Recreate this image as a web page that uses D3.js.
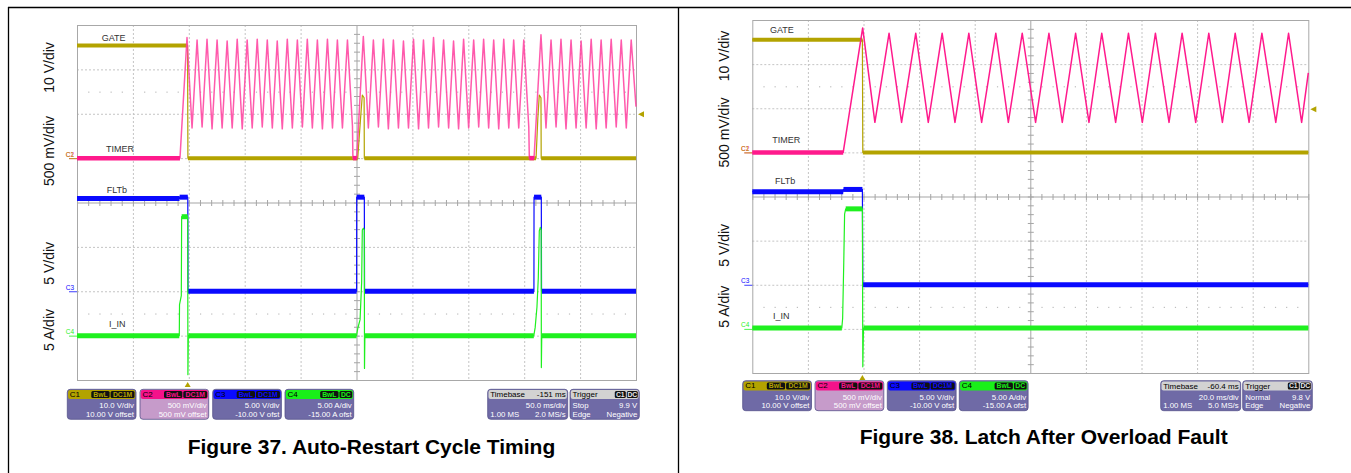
<!DOCTYPE html>
<html><head><meta charset="utf-8">
<script src="https://cdnjs.cloudflare.com/ajax/libs/d3/7.8.5/d3.min.js"></script>
<style>body{margin:0;background:#fff;} svg{display:block;}</style>
</head><body><svg id="c" width="1351" height="473"></svg>
<script>
// ---------------- DATA ----------------
const channelNames = ["C1","C2","C3","C4"];
const traceNames = ["GATE","TIMER","FLTb","I_IN"];
const divLabels = ["10 V/div","500 mV/div","5 V/div","5 A/div"];
const voltsPerDiv = [10, 0.5, 5, 5];
const offsets = [10, 0.5, -10, -15];
const scaleText = ["10.0 V/div","500 mV/div","5.00 V/div","5.00 A/div"];
const offsetText = ["10.00 V offset","500 mV offset","-10.00 V ofst","-15.00 A ofst"];
const bandwidthText = ["BwL","BwL","BwL","BwL"];
const couplingText = ["DC1M","DC1M","DC1M","DC"];
const figTitles = ["Figure 37. Auto-Restart Cycle Timing","Figure 38. Latch After Overload Fault"];
const msPerDiv = [50, 20];
const timebaseDelay = [-151, -60.4];
const timebaseText = ["-151 ms","-60.4 ms"];
const timebaseDivText = ["50.0 ms/div","20.0 ms/div"];
const sampleText = ["1.00 MS","1.00 MS"];
const rateText = ["2.0 MS/s","5.0 MS/s"];
const trigModeText = ["Stop","Normal"];
const trigLevel = [9.9, 9.8];
const trigLevelText = ["9.9 V","9.8 V"];
const trigTypeText = ["Edge","Edge"];
const trigSlopeText = ["Negative","Negative"];

// Figure 37 traces: [time ms from left edge, value in channel units]
const leftGate = [[0,25.4],[98.9,25.4],[99.2,0],[251.1,0],[253.5,8.5],[255.2,14.2],[256.8,13.6],[257.0,0],
  [410.6,0],[412.2,9.0],[413.5,14.2],[415.0,13.6],[415.2,0],[500,0]];
const leftTimer = [[0,0],[92.1,0],[98.4,1.36],
  [102.9,0.34],[107.4,1.33],[111.9,0.35],[116.3,1.34],[120.8,0.33],[125.3,1.33],[129.8,0.34],[134.3,1.32],
  [138.8,0.34],[143.3,1.34],[147.8,0.33],[152.2,1.33],[156.7,0.34],[161.2,1.34],[165.7,0.35],[170.2,1.33],
  [174.7,0.34],[179.1,1.32],[183.6,0.33],[188.1,1.34],[192.6,0.34],[197.1,1.33],[201.6,0.35],[206.0,1.34],
  [210.5,0.34],[215.0,1.33],[219.5,0.33],[224.0,1.34],[228.5,0.34],[232.9,1.33],[237.4,0.34],[241.9,1.33],
  [246.4,0.36],[246.8,0],[250.2,0],[256.1,1.37],
  [260.6,0.34],[265.1,1.33],[269.6,0.35],[274.0,1.34],[278.5,0.33],[283.0,1.33],[287.5,0.34],[292.0,1.32],
  [296.5,0.34],[301.0,1.34],[305.5,0.33],[309.9,1.33],[314.4,0.34],[318.9,1.36],[323.4,0.35],[327.9,1.33],
  [332.4,0.34],[336.8,1.32],[341.3,0.33],[345.8,1.34],[350.3,0.34],[354.8,1.33],[359.3,0.35],[363.7,1.34],
  [368.2,0.34],[372.7,1.33],[377.2,0.33],[381.7,1.34],[386.2,0.34],[390.6,1.33],[395.1,0.34],[399.6,1.33],
  [404.1,0.35],[404.6,0],[408.8,0],[415.0,1.39],
  [419.5,0.34],[424.0,1.33],[428.5,0.35],[432.9,1.34],[437.4,0.33],[441.9,1.33],[446.4,0.34],[450.9,1.32],
  [455.4,0.34],[459.9,1.34],[464.4,0.33],[468.8,1.33],[473.3,0.34],[477.8,1.34],[482.3,0.35],[486.8,1.33],
  [491.3,0.34],[495.7,1.33],[500,0.58]];
const leftFlt = [[0,10.45],[91.7,10.45],[91.8,10.6],[99.1,10.6],[99.3,0],[250.1,0],[250.2,10.6],[257.0,10.6],
  [257.2,0],[408.7,0],[408.8,10.6],[415.3,10.6],[415.5,0],[500,0]];
const leftIin = [[0,0],[91.5,0],[91.7,3.5],[93.3,4.5],[93.6,13.4],[99.0,13.4],[99.2,-4.4],[99.6,0],
  [250.0,0],[251.1,0.8],[253.2,1.8],[254.6,6.0],[255.2,11.9],[256.1,12.1],[257.0,11.9],[257.15,-3.7],[257.5,0],
  [408.6,0],[409.8,0.9],[411.4,3.2],[412.6,6.5],[413.5,11.8],[414.4,12.2],[415.2,11.9],[415.35,-3.6],[415.7,0],[500,0]];

// Figure 38 traces
const rightGate = [[0,25.5],[39.6,25.5],[39.75,0],[200,0]];
const rightTimer = [[0,0],[32.7,0],[39.7,1.41],
  [44.1,0.34],[49.2,1.35],[53.7,0.34],[58.8,1.35],[63.3,0.34],[68.3,1.35],[72.9,0.34],[77.9,1.35],
  [82.5,0.34],[87.6,1.35],[92.1,0.34],[97.1,1.35],[101.9,0.34],[106.7,1.35],[111.5,0.34],[116.3,1.35],
  [121.1,0.34],[125.7,1.35],[130.7,0.34],[135.3,1.35],[140.3,0.34],[145.0,1.35],[149.9,0.34],[154.6,1.35],
  [159.5,0.34],[164.2,1.35],[169.1,0.34],[173.7,1.35],[178.7,0.34],[183.3,1.35],[188.3,0.34],[192.9,1.35],
  [197.6,0.34],[200,0.9]];
const rightFlt = [[0,10.55],[32.7,10.55],[32.8,10.8],[39.6,10.8],[39.75,0],[200,0]];
const rightIin = [[0,0.1],[32.2,0.1],[32.5,1.2],[32.9,7.5],[33.2,13.0],[33.6,13.6],[39.6,13.6],[39.75,-4.3],[40.0,0.1],[200,0.1]];

const panelTraces = [[leftGate,leftTimer,leftFlt,leftIin],[rightGate,rightTimer,rightFlt,rightIin]];

// ---------------- LAYOUT / STYLE ----------------
const FONT = '"Liberation Sans", Arial, sans-serif';
const chColor = ["#b3a300","#ff1a8c","#0a0aff","#1ff01f"];
const headFill = ["#b3a300","#f5128a","#0a0aff","#19f019"];
const bodyFill = ["#6f6aa6","#c69bca","#6f6aa6","#6f6aa6"];
const layouts = [
  {x0:77, x1:636, y0:25, y1:380, boxY:389.3, boxX:[67.3,140,212.7,285], boxW:68.7, tbX:487.7, tbW:80, trX:570, trW:69.3,
   labelX:54, labelY:[67.5,151,263.3,330], tlX:[101.7,106,106.7,109], tlY:[40.7,151.7,193,327.3], capX:371.5, capY:454},
  {x0:752.3, x1:1308.3, y0:20, y1:373, boxY:380.7, boxX:[742.7,815,887.3,959.3], boxW:68.8, tbX:1160.7, tbW:80, trX:1242.7, trW:69.6,
   labelX:728.5, labelY:[56,132.5,245.3,306.7], tlX:[770,772.3,775,773], tlY:[33.3,142.7,184.3,319], capX:1043.7, capY:444}
];

const svg = d3.select('#c');
svg.append('rect').attr('width',1351).attr('height',473).attr('fill','#fff');
// page frame lines
svg.append('line').attr('x1',8).attr('x2',1351).attr('y1',7.5).attr('y2',7.5).attr('stroke','#000').attr('stroke-width',1.3);
svg.append('line').attr('x1',8.5).attr('x2',8.5).attr('y1',7).attr('y2',473).attr('stroke','#000').attr('stroke-width',1.3);
svg.append('line').attr('x1',678.5).attr('x2',678.5).attr('y1',7).attr('y2',473).attr('stroke','#000').attr('stroke-width',1.3);

function drawPanel(p) {
  const L = layouts[p];
  const g = svg.append('g');
  const x = d3.scaleLinear().domain([0, 10*msPerDiv[p]]).range([L.x0, L.x1]);
  const xd = d3.scaleLinear().domain([0,10]).range([L.x0, L.x1]);
  const yd = d3.scaleLinear().domain([-4,4]).range([L.y1, L.y0]);
  const ych = voltsPerDiv.map((v,i)=>d3.scaleLinear().domain([-4*v-offsets[i], 4*v-offsets[i]]).range([L.y1, L.y0]));

  // grid
  const grid = g.append('g');
  d3.range(1,10).filter(i=>i!==5).forEach(i=>grid.append('line')
    .attr('x1',xd(i)+0.5).attr('x2',xd(i)+0.5).attr('y1',L.y0).attr('y2',L.y1)
    .attr('stroke','#c4c4c4').attr('stroke-dasharray','2,2'));
  d3.range(-3,4).filter(i=>i!==0).forEach(i=>grid.append('line')
    .attr('y1',yd(i)+0.5).attr('y2',yd(i)+0.5).attr('x1',L.x0).attr('x2',L.x1)
    .attr('stroke','#c4c4c4').attr('stroke-dasharray','2,2'));
  [-2.5,2.5].forEach(r=>{
    d3.range(1,50).filter(k=>k%5!==0).forEach(k=>grid.append('rect')
      .attr('x',xd(k/5)).attr('y',yd(r)).attr('width',1.2).attr('height',1.2).attr('fill','#bdbdbd'));
  });
  grid.append('line').attr('x1',xd(5)+0.5).attr('x2',xd(5)+0.5).attr('y1',L.y0).attr('y2',L.y1).attr('stroke','#a5a5a5');
  grid.append('line').attr('y1',yd(0)+0.5).attr('y2',yd(0)+0.5).attr('x1',L.x0).attr('x2',L.x1).attr('stroke','#a5a5a5');
  d3.range(-20,21).forEach(k=>grid.append('line').attr('x1',xd(5)-2.5).attr('x2',xd(5)+3.5)
    .attr('y1',yd(k/5)+0.5).attr('y2',yd(k/5)+0.5).attr('stroke','#a5a5a5'));
  d3.range(0,51).forEach(k=>grid.append('line').attr('y1',yd(0)-2.5).attr('y2',yd(0)+3.5)
    .attr('x1',xd(k/5)+0.5).attr('x2',xd(k/5)+0.5).attr('stroke','#a5a5a5'));
  grid.append('rect').attr('x',L.x0+0.5).attr('y',L.y0+0.5).attr('width',L.x1-L.x0).attr('height',L.y1-L.y0)
    .attr('fill','none').attr('stroke','#a8a8a8');

  // ground markers
  [1,0,2,3].forEach(i=>{
    const yy = ych[i](0);
    g.append('line').attr('x1',L.x0-8).attr('x2',L.x0).attr('y1',yy+0.5).attr('y2',yy+0.5).attr('stroke',chColor[i]).attr('stroke-width',0.8);
    g.append('text').attr('x',L.x0-3).attr('y',yy-1.5).attr('text-anchor','end').attr('font-family',FONT)
      .attr('font-size',6.5).attr('fill',chColor[i]).text(channelNames[i]);
  });

  // traces
  const tr = panelTraces[p];
  const thick = [4,4.5,5,5];
  [0,2,3,1].forEach(i=>{
    const data = tr[i];
    const sc = ych[i];
    const line = d3.line().x(d=>x(d[0])).y(d=>sc(d[1]));
    const pinkLeft = (i===1 && p===0);
    g.append('path').datum(data).attr('d',line).attr('fill','none')
      .attr('stroke', i===1 ? (pinkLeft ? '#ff3d9e' : '#ff1a8c') : chColor[i])
      .attr('stroke-width', i===1 ? 1.5 : 1.2).attr('stroke-opacity', pinkLeft ? 0.85 : 1)
      .attr('stroke-linejoin','round');
    data.slice(1).forEach((d,k)=>{
      const a = data[k];
      if (d[1]===a[1]) g.append('line').attr('x1',x(a[0])).attr('x2',x(d[0]))
        .attr('y1',sc(a[1])).attr('y2',sc(d[1])).attr('stroke', i===1 ? '#ff1a8c' : chColor[i]).attr('stroke-width',thick[i]);
    });
  });

  // trigger markers
  const tt = 5*msPerDiv[p] + timebaseDelay[p];
  const tx = x(tt);
  g.append('path').attr('d',`M${tx},${L.y1+2} L${tx-3},${L.y1+7} L${tx+3},${L.y1+7} Z`).attr('fill',chColor[0]);
  const ty = ych[0](trigLevel[p]);
  g.append('path').attr('d',`M${L.x1+2},${ty} L${L.x1+8},${ty-3} L${L.x1+8},${ty+3} Z`).attr('fill',chColor[0]);

  // trace labels
  traceNames.forEach((t,i)=>g.append('text').attr('x',L.tlX[i]).attr('y',L.tlY[i]).attr('font-family',FONT)
    .attr('font-size',9).attr('fill','#333').text(t));

  // vertical div labels
  divLabels.forEach((t,i)=>g.append('text').attr('transform',`translate(${L.labelX},${L.labelY[i]}) rotate(-90)`)
    .attr('text-anchor','middle').attr('font-family',FONT).attr('font-size',14).attr('fill','#111').text(t));

  // channel boxes
  const bh = 30, hh = 9.8;
  channelNames.forEach((c,i)=>{
    const bx = L.boxX[i], by = L.boxY, bw = L.boxW;
    const b = g.append('g');
    b.append('rect').attr('x',bx).attr('y',by).attr('width',bw).attr('height',bh).attr('rx',3)
      .attr('fill',bodyFill[i]).attr('stroke','#55528a').attr('stroke-width',0.8);
    b.append('rect').attr('x',bx+0.8).attr('y',by+0.8).attr('width',bw-1.6).attr('height',hh-0.8).attr('rx',2).attr('fill',headFill[i]);
    b.append('text').attr('x',bx+2.5).attr('y',by+7.6).attr('font-family',FONT).attr('font-size',8).attr('fill','#000').text(c);
    const badges = [bandwidthText[i], couplingText[i]];
    let rx = bx+bw-1.5;
    badges.slice().reverse().forEach(t=>{
      const w = t.length*5.6+1.5;
      b.append('rect').attr('x',rx-w).attr('y',by+1.8).attr('width',w).attr('height',7).attr('rx',1.5).attr('fill','#111');
      b.append('text').attr('x',rx-w/2).attr('y',by+7.6).attr('text-anchor','middle').attr('font-family',FONT)
        .attr('font-size',6.8).attr('font-weight','bold').attr('fill',headFill[i]).text(t);
      rx -= w+1;
    });
    b.append('text').attr('x',bx+bw-2).attr('y',by+18.8).attr('text-anchor','end').attr('font-family',FONT)
      .attr('font-size',7.8).attr('fill','#fff').text(scaleText[i]);
    b.append('text').attr('x',bx+bw-2).attr('y',by+27.2).attr('text-anchor','end').attr('font-family',FONT)
      .attr('font-size',7.8).attr('fill','#fff').text(offsetText[i]);
  });

  // timebase box
  function infoBox(bx, bw, head, headRight, badges, rows) {
    const by = L.boxY;
    const b = g.append('g');
    b.append('rect').attr('x',bx).attr('y',by).attr('width',bw).attr('height',bh).attr('rx',3)
      .attr('fill','#6f6aa6').attr('stroke','#55528a').attr('stroke-width',0.8);
    b.append('rect').attr('x',bx+0.8).attr('y',by+0.8).attr('width',bw-1.6).attr('height',hh-0.8).attr('rx',2).attr('fill','#d2d2d2');
    b.append('text').attr('x',bx+2.5).attr('y',by+7.8).attr('font-family',FONT).attr('font-size',8).attr('fill','#000').text(head);
    if (headRight) b.append('text').attr('x',bx+bw-2).attr('y',by+7.8).attr('text-anchor','end').attr('font-family',FONT)
      .attr('font-size',8).attr('fill','#000').text(headRight);
    let rx = bx+bw-1.5;
    badges.slice().reverse().forEach(t=>{
      const w = 11;
      b.append('rect').attr('x',rx-w).attr('y',by+1.8).attr('width',w).attr('height',7).attr('rx',1.5).attr('fill','#111');
      b.append('text').attr('x',rx-w/2).attr('y',by+7.6).attr('text-anchor','middle').attr('font-family',FONT)
        .attr('font-size',6.8).attr('font-weight','bold').attr('fill','#e8e8e8').text(t);
      rx -= w+1;
    });
    rows.forEach((r,k)=>{
      const yy = by + 18.8 + k*8.4;
      if (r[0]) b.append('text').attr('x',bx+2.5).attr('y',yy).attr('font-family',FONT).attr('font-size',7.8).attr('fill','#fff').text(r[0]);
      if (r[1]) b.append('text').attr('x',bx+bw-2).attr('y',yy).attr('text-anchor','end').attr('font-family',FONT).attr('font-size',7.8).attr('fill','#fff').text(r[1]);
    });
  }
  infoBox(L.tbX, L.tbW, "Timebase", timebaseText[p], [], [["", timebaseDivText[p]],[sampleText[p], rateText[p]]]);
  infoBox(L.trX, L.trW, "Trigger", null, ["C1","DC"], [[trigModeText[p], trigLevelText[p]],[trigTypeText[p], trigSlopeText[p]]]);

  // caption
  g.append('text').attr('x',L.capX).attr('y',L.capY).attr('text-anchor','middle').attr('font-family',FONT)
    .attr('font-size',21).attr('font-weight','bold').attr('fill','#000').text(figTitles[p]);
}
drawPanel(0);
drawPanel(1);
</script></body></html>
